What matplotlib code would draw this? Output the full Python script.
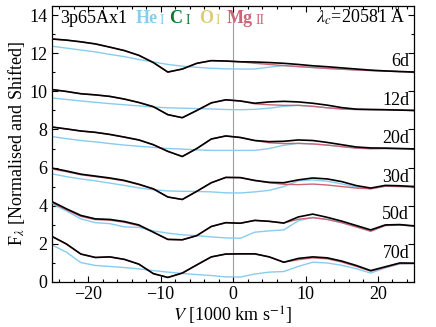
import matplotlib
matplotlib.use("Agg")
import matplotlib.pyplot as plt
from matplotlib.ticker import MultipleLocator

plt.rcParams["font.family"] = ["Liberation Serif", "DejaVu Serif"]
plt.rcParams["mathtext.fontset"] = "stix"

# velocity grid [1000 km/s]
V = [-25, -23, -21, -19, -17, -15, -13, -11, -9, -7, -5, -3, -1,
     1, 3, 5, 7, 9, 11, 13, 15, 17, 19, 21, 23, 25]

epochs = ["6d", "12d", "20d", "30d", "50d", "70d"]
label_y = [11.32, 9.3, 7.28, 5.26, 3.28, 1.26]

# full model (black)
full_6 = [12.76, 12.70, 12.61, 12.50, 12.33, 12.15, 11.90, 11.52, 11.02, 11.18, 11.48, 11.62, 11.60,
          11.56, 11.55, 11.52, 11.48, 11.42, 11.35, 11.30, 11.24, 11.18, 11.12, 11.08, 11.05, 11.02]
full_12 = [10.10, 10.00, 9.88, 9.82, 9.74, 9.60, 9.42, 9.20, 8.78, 8.62, 9.00, 9.40, 9.56,
           9.50, 9.38, 9.45, 9.48, 9.45, 9.38, 9.28, 9.15, 9.07, 9.05, 9.04, 9.02, 9.00]
full_20 = [8.13, 8.03, 7.92, 7.85, 7.74, 7.60, 7.45, 7.20, 6.85, 6.58, 7.00, 7.50, 7.66,
           7.58, 7.42, 7.36, 7.38, 7.45, 7.42, 7.32, 7.20, 7.08, 7.03, 7.02, 7.00, 6.98]
full_30 = [5.97, 5.82, 5.65, 5.55, 5.45, 5.32, 5.12, 4.88, 4.45, 4.32, 4.75, 5.20, 5.48,
           5.47, 5.32, 5.22, 5.20, 5.35, 5.45, 5.40, 5.26, 5.05, 4.92, 5.06, 5.04, 5.00]
full_50 = [4.21, 3.83, 3.48, 3.30, 3.27, 3.16, 2.98, 2.60, 2.22, 2.20, 2.42, 2.90, 3.10,
           3.07, 3.22, 3.17, 3.08, 3.40, 3.55, 3.38, 3.18, 2.95, 2.72, 2.98, 3.00, 2.93]
full_70 = [2.38, 1.98, 1.45, 1.27, 1.30, 1.17, 0.92, 0.42, 0.22, 0.45, 0.88, 1.30, 1.45,
           1.46, 1.46, 1.30, 1.02, 1.22, 1.30, 1.25, 1.08, 0.85, 0.58, 0.78, 0.98, 0.97]

# He I removed (light blue)
noHe_6 = [12.38, 12.28, 12.18, 12.08, 11.95, 11.83, 11.68, 11.55, 11.42, 11.33, 11.27, 11.22, 11.19,
          11.18, 11.18, 11.28, 11.36, 11.31, 11.26, 11.21, 11.17, 11.13, 11.10, 11.07, 11.04, 11.02]
noHe_12 = [9.66, 9.58, 9.50, 9.43, 9.36, 9.30, 9.24, 9.18, 9.14, 9.12, 9.10, 9.08, 9.05,
           9.04, 9.06, 9.12, 9.22, 9.27, 9.22, 9.14, 9.08, 9.05, 9.05, 9.04, 9.02, 9.00]
noHe_20 = [7.63, 7.52, 7.42, 7.35, 7.26, 7.18, 7.12, 7.06, 7.00, 6.97, 6.93, 6.90, 6.90,
           6.90, 6.90, 7.00, 7.17, 7.27, 7.24, 7.18, 7.10, 7.02, 6.99, 7.00, 6.99, 6.98]
noHe_30 = [5.67, 5.52, 5.40, 5.30, 5.18, 5.06, 4.93, 4.83, 4.77, 4.75, 4.74, 4.72, 4.67,
           4.66, 4.72, 4.80, 5.00, 5.30, 5.35, 5.28, 5.14, 4.97, 4.88, 5.02, 5.00, 4.98]
noHe_50 = [4.09, 3.72, 3.30, 3.10, 3.05, 2.88, 2.85, 2.67, 2.55, 2.46, 2.42, 2.35, 2.30,
           2.28, 2.60, 2.67, 2.72, 3.20, 3.38, 3.27, 3.10, 2.88, 2.65, 2.95, 2.98, 2.92]
noHe_70 = [1.93, 1.55, 1.00, 0.85, 0.80, 0.74, 0.67, 0.58, 0.50, 0.43, 0.37, 0.32, 0.25,
           0.24, 0.40, 0.50, 0.53, 0.80, 1.02, 0.98, 0.86, 0.68, 0.45, 0.72, 0.93, 0.95]

# Mg II removed (rose)
noMg_6 = [12.76, 12.70, 12.61, 12.50, 12.33, 12.15, 11.90, 11.52, 11.02, 11.18, 11.48, 11.62, 11.60,
          11.56, 11.48, 11.42, 11.36, 11.31, 11.26, 11.21, 11.17, 11.13, 11.10, 11.07, 11.04, 11.02]
noMg_12 = [10.10, 10.00, 9.88, 9.82, 9.74, 9.60, 9.42, 9.20, 8.78, 8.62, 9.00, 9.40, 9.56,
           9.50, 9.35, 9.30, 9.27, 9.27, 9.22, 9.14, 9.08, 9.05, 9.05, 9.04, 9.02, 9.00]
noMg_20 = [8.13, 8.03, 7.92, 7.85, 7.74, 7.60, 7.45, 7.20, 6.85, 6.58, 7.00, 7.50, 7.66,
           7.58, 7.42, 7.30, 7.26, 7.27, 7.24, 7.18, 7.10, 7.02, 6.99, 7.00, 6.99, 6.98]
noMg_30 = [5.93, 5.78, 5.62, 5.52, 5.42, 5.30, 5.10, 4.87, 4.45, 4.32, 4.75, 5.20, 5.48,
           5.47, 5.32, 5.20, 5.12, 5.10, 5.13, 5.08, 5.00, 4.92, 4.88, 5.02, 5.00, 4.98]
noMg_50 = [4.15, 3.78, 3.43, 3.26, 3.23, 3.12, 2.94, 2.60, 2.22, 2.20, 2.42, 2.90, 3.10,
           3.07, 3.22, 3.17, 3.08, 3.28, 3.36, 3.27, 3.10, 2.88, 2.65, 2.95, 2.98, 2.92]
noMg_70 = [2.38, 1.98, 1.45, 1.27, 1.30, 1.17, 0.92, 0.42, 0.22, 0.45, 0.88, 1.30, 1.45,
           1.46, 1.46, 1.30, 1.02, 1.15, 1.25, 1.20, 1.03, 0.80, 0.55, 0.75, 0.95, 0.95]

full = [full_6, full_12, full_20, full_30, full_50, full_70]
noHe = [noHe_6, noHe_12, noHe_20, noHe_30, noHe_50, noHe_70]
noMg = [noMg_6, noMg_12, noMg_20, noMg_30, noMg_50, noMg_70]

C_HE, C_C, C_O, C_MG = "#88CCEE", "#117733", "#DDCC77", "#CC6677"
FS = 13

fig = plt.figure(figsize=(4.36, 3.27), dpi=100)
ax = fig.add_axes([0.119, 0.1376, 0.831, 0.8444])

ax.axvline(0, color="0.62", lw=0.8, zorder=1)
for k in range(len(epochs)):
    ax.plot(V, noHe[k], color=C_HE, lw=1.0, zorder=2)
    ax.plot(V, noMg[k], color=C_MG, lw=1.0, zorder=3)
    ax.plot(V, full[k], color="k", lw=1.2, zorder=4)
    ax.text(24.3, label_y[k], epochs[k], ha="right", va="baseline", fontsize=FS)

ax.set_xlim(-25, 25)
ax.set_ylim(-0.02, 14.5)
ax.xaxis.set_major_locator(MultipleLocator(10))
ax.xaxis.set_minor_locator(MultipleLocator(2))
ax.yaxis.set_major_locator(MultipleLocator(2))
ax.yaxis.set_minor_locator(MultipleLocator(1))
ax.tick_params(which="both", direction="in", top=True, right=True, labelsize=FS, width=0.8)
ax.tick_params(which="major", length=4, pad=3)
ax.tick_params(which="minor", length=2)
for s in ax.spines.values():
    s.set_linewidth(0.9)
ax.set_xlabel(r"$V$ [1000 km s$^{-1}$]", fontsize=FS, labelpad=1)
ax.set_ylabel(r"F$_\lambda$ [Normalised and Shifted]", fontsize=FS, labelpad=2)

# model name and ion key, chained left to right (gap in points before each piece)
t = ax.text(0.022, 0.922, "3p65Ax1", transform=ax.transAxes, fontsize=FS, va="bottom")
pieces = [("He", C_HE, FS, "bold", 6.0), ("I", C_HE, FS * 0.75, "normal", 1.5),
          ("C", C_C, FS, "bold", 3.5), ("I", C_C, FS * 0.75, "normal", 2.5),
          ("O", C_O, FS, "bold", 6.5), ("I", C_O, FS * 0.75, "normal", 2.0),
          ("Mg", C_MG, FS, "bold", 4.5), ("II", C_MG, FS * 0.75, "normal", 2.0)]
for s, c, fs, w, gap in pieces:
    t = ax.annotate(s, xy=(1, 0), xycoords=t, xytext=(gap, 0), textcoords="offset points",
                    va="bottom", color=c, fontsize=fs, fontweight=w)
ax.text(0.975, 0.922, r"$\lambda_c$=20581 Å", transform=ax.transAxes, fontsize=FS,
        ha="right", va="bottom")

fig.savefig("out.png", dpi=100)
